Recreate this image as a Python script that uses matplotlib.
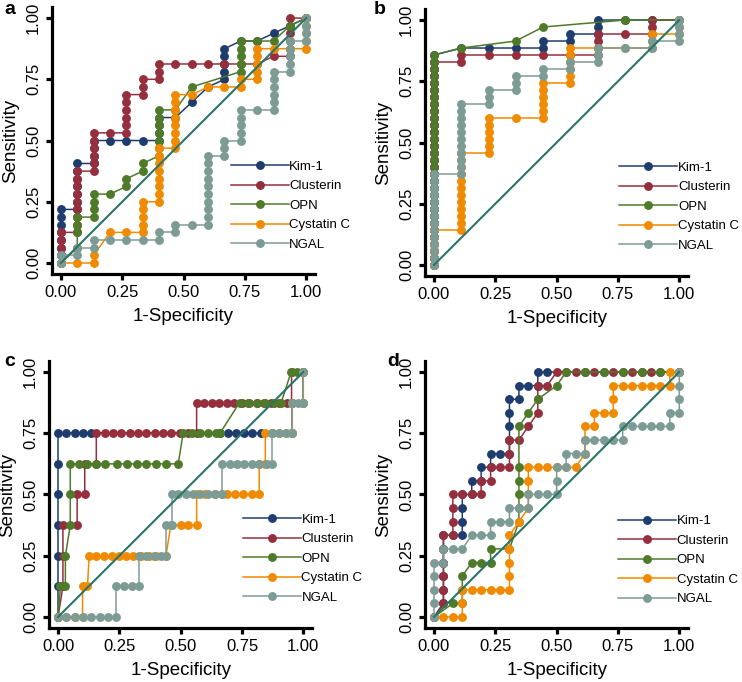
import matplotlib
matplotlib.use("Agg")
import matplotlib.pyplot as plt
from matplotlib.lines import Line2D

plt.rcParams['font.family'] = ['Liberation Sans', 'DejaVu Sans']

names = ["Kim-1", "Clusterin", "OPN", "Cystatin C", "NGAL"]
colors = ["#1e3d6e", "#952f3d", "#4e7a2a", "#f08a00", "#7d9b95"]
diag_color = "#2b7468"
ticks = [0.0, 0.25, 0.5, 0.75, 1.0]
tick_labels = ["0.00", "0.25", "0.50", "0.75", "1.00"]

# panel a: (false positives, [true positives]) with 15 negatives / 32 positives
neg_a, pos_a = 15, 32
kim_a = [(0, [0, 1, 2, 3, 4, 5, 6, 7]), (1, [7, 8, 9, 10, 11, 12, 13]), (2, [13, 14, 15, 16]),
         (3, [16]), (4, [16]), (5, [16]), (6, [16, 17, 18, 19]), (7, [19]), (8, [21]), (9, [23]),
         (10, [24, 25, 26, 27, 28]), (11, [29]), (12, [29]), (13, [30]), (14, [31]), (15, [32])]
clu_a = [(0, [0, 1, 2, 3, 4]), (1, [4, 5, 6, 7, 8, 9, 10, 11, 12]), (2, [12, 13, 14, 15, 16, 17]),
         (3, [17]), (4, [17, 18, 19, 20, 21, 22]), (5, [22, 23, 24]), (6, [24, 25, 26]), (7, [26]),
         (8, [26]), (9, [26]), (10, [26]), (11, [26]), (12, [26]), (13, [27]),
         (14, [27, 28, 29, 30, 31, 32]), (15, [32])]
opn_a = [(0, [0]), (1, [2, 4, 5, 6]), (2, [6, 7, 8, 9]), (3, [9]), (4, [10, 11]), (5, [12, 13]),
         (6, [14, 15, 16, 17, 18, 19, 20]), (7, [20]), (8, [23]), (11, [25, 26, 27, 28, 29]),
         (12, [29]), (13, [29]), (14, [31]), (15, [32])]
cys_a = [(0, [0]), (1, [0]), (2, [0, 1]), (3, [4]), (4, [4]), (5, [4, 5, 6, 7, 8]),
         (6, [8, 9, 10, 11, 12, 13, 14, 15]), (7, [15, 16, 17, 18, 19, 20, 21, 22]), (8, [22]),
         (9, [23]), (10, [23]), (11, [23, 24]), (12, [24, 25, 26, 27, 28]), (13, [28]), (14, [28]),
         (15, [28, 29, 30, 31, 32])]
ngal_a = [(0, [0, 1]), (1, [1, 2]), (2, [2, 3]), (3, [3]), (4, [3]), (5, [3]), (6, [3, 4]), (7, [4, 5]),
          (8, [5]), (9, [5, 6, 7, 8, 9, 10, 11, 12, 13, 14]), (10, [14, 15, 16]),
          (11, [16, 17, 18, 19, 20]), (12, [20]), (13, [20, 21, 22, 23, 24, 25]),
          (14, [25, 26, 27, 28, 29]), (15, [29, 30, 31, 32])]

# panel b: 9 negatives / 35 positives
neg_b, pos_b = 9, 35
kim_b = [(0, [0, 1, 2, 3, 4, 5, 6, 7, 8, 9, 10, 11, 12, 13, 14, 15, 16, 17, 18, 19, 20, 21, 22, 23, 24,
              25, 26, 27, 28, 29, 30]),
         (1, [31]), (2, [31]), (3, [31]), (4, [31, 32]), (5, [32, 33]), (6, [33, 34, 35]), (7, [35]),
         (8, [35]), (9, [35])]
clu_b = [(0, [0, 1, 2, 3, 4, 5, 6, 7, 8, 9, 10, 11, 12, 13, 14, 15, 16, 17, 18, 19, 20, 21, 22, 23, 24,
              25, 26, 27, 28, 29]),
         (1, [29, 30]), (2, [30]), (3, [30]), (4, [30]), (5, [30]), (6, [30, 31, 32, 33]), (7, [33]),
         (8, [33, 34, 35]), (9, [35])]
opn_b = [(0, [0, 1, 2, 3, 4, 5, 6, 7, 8, 9, 10, 11, 12, 13, 14, 15, 16, 17, 18, 19, 20, 21, 22, 23, 24,
              25, 26, 27, 28, 29, 30]),
         (1, [31]), (3, [32]), (4, [34]), (7, [35]), (9, [35])]
cys_b = [(0, [0, 1, 2, 3, 4, 5]), (1, [5, 6, 7, 8, 9, 10, 11, 12, 13, 14, 15, 16]),
         (2, [16, 17, 18, 19, 20, 21]), (3, [21]), (4, [21, 22, 23, 24, 25, 26]),
         (5, [26, 27, 28, 29, 30, 31]), (6, [31]), (7, [31]), (8, [31, 32, 33]), (9, [33, 34, 35])]
ngal_b = [(0, [0, 1, 2, 3, 4, 5, 6, 7, 8, 9, 10, 11, 12, 13]),
          (1, [13, 14, 15, 16, 17, 18, 19, 20, 21, 22, 23]), (2, [23, 24, 25]), (3, [25, 26, 27]),
          (4, [27, 28]), (5, [28, 29]), (6, [29, 30, 31]), (7, [31]), (8, [31, 32]),
          (9, [32, 33, 34, 35])]

# panel c: (1-specificity, true positives out of 8)
pos_c = 8
kim_c = [(0.0, 0), (0.0, 1), (0.0, 2), (0.0, 3), (0.0, 4), (0.0, 5), (0.0, 6), (0.034, 6), (0.068, 6),
         (0.102, 6), (0.136, 6), (0.66, 6), (0.693, 6), (0.726, 6), (0.759, 6), (0.792, 6), (0.826, 6),
         (0.873, 6), (0.955, 6), (0.955, 7), (1.0, 7), (1.0, 8)]
clu_c = [(0.0, 0), (0.02, 1), (0.02, 2), (0.02, 3), (0.078, 3), (0.078, 4), (0.109, 4), (0.109, 5),
         (0.156, 5), (0.156, 6), (0.19, 6), (0.224, 6), (0.258, 6), (0.292, 6), (0.326, 6), (0.36, 6),
         (0.394, 6), (0.428, 6), (0.462, 6), (0.496, 6), (0.53, 6), (0.565, 6), (0.565, 7), (0.595, 7),
         (0.626, 7), (0.656, 7), (0.687, 7), (0.717, 7), (0.748, 7), (0.779, 7), (0.81, 7), (0.84, 7),
         (0.87, 7), (0.901, 7), (0.932, 7), (0.952, 7), (0.952, 8), (1.0, 8)]
opn_c = [(0.0, 0), (0.01, 1), (0.03, 1), (0.03, 2), (0.05, 3), (0.05, 4), (0.05, 5), (0.085, 5),
         (0.12, 5), (0.155, 5), (0.19, 5), (0.24, 5), (0.28, 5), (0.32, 5), (0.36, 5), (0.40, 5),
         (0.44, 5), (0.49, 5), (0.51, 6), (0.545, 6), (0.58, 6), (0.612, 6), (0.646, 6), (0.66, 6),
         (0.74, 7), (0.775, 7), (0.81, 7), (0.845, 7), (0.88, 7), (0.91, 7), (0.95, 8), (0.975, 8),
         (1.0, 8)]
cys_c = [(0.0, 0), (0.034, 0), (0.068, 0), (0.1, 0), (0.1, 1), (0.12, 1), (0.127, 2), (0.156, 2),
         (0.186, 2), (0.218, 2), (0.248, 2), (0.279, 2), (0.306, 2), (0.34, 2), (0.37, 2), (0.40, 2),
         (0.44, 2), (0.46, 3), (0.5, 3), (0.53, 3), (0.565, 3), (0.565, 4), (0.6, 4), (0.64, 4),
         (0.67, 4), (0.69, 4), (0.72, 4), (0.755, 4), (0.79, 4), (0.82, 4), (0.82, 5), (0.845, 5),
         (0.845, 6), (0.873, 6), (0.9, 6), (0.93, 6), (0.955, 6), (0.955, 7), (1.0, 7), (1.0, 8)]
ngal_c = [(0.0, 0), (0.034, 0), (0.068, 0), (0.102, 0), (0.136, 0), (0.17, 0), (0.204, 0), (0.238, 0),
          (0.238, 1), (0.268, 1), (0.3, 1), (0.33, 1), (0.33, 2), (0.36, 2), (0.39, 2), (0.42, 2),
          (0.44, 2), (0.44, 3), (0.465, 3), (0.465, 4), (0.49, 4), (0.52, 4), (0.55, 4), (0.58, 4),
          (0.61, 4), (0.64, 4), (0.67, 4), (0.67, 5), (0.7, 5), (0.73, 5), (0.76, 5), (0.79, 5),
          (0.82, 5), (0.85, 5), (0.873, 5), (0.873, 6), (0.9, 6), (0.93, 6), (0.955, 6), (0.955, 7),
          (0.98, 7), (1.0, 7), (1.0, 8)]

# panel d: 26 negatives / 18 positives
neg_d, pos_d = 26, 18
kim_d = [(0, [0]), (1, [1, 2, 3, 4, 5, 6]), (2, [6]), (3, [6, 7, 8, 9]), (4, [9, 10]), (5, [10, 11]),
         (6, [11, 12]), (7, [12]), (8, [12, 13, 14, 15, 16]), (9, [16, 17]), (10, [17]), (11, [17, 18]),
         (12, [18]), (26, [18])]
clu_d = [(0, [0]), (1, [1, 2, 3, 4, 5, 6]), (2, [6, 7, 8, 9]), (3, [9]), (4, [9]), (5, [9, 10]),
         (6, [10, 11]), (7, [11]), (8, [11, 12, 13]), (9, [13]), (10, [14]), (11, [15, 16, 17]),
         (12, [17]), (13, [18]), (14, [18]), (15, [18]), (16, [18]), (17, [18]), (18, [18]), (19, [18]),
         (20, [18]), (21, [18]), (22, [18]), (23, [18]), (24, [18]), (26, [18])]
opn_d = [(0, [0]), (2, [1]), (3, [1, 2, 3]), (4, [4]), (5, [4]), (6, [4, 5]), (8, [5]),
         (9, [7, 8, 9, 10, 11, 14]), (10, [15]), (11, [16]), (13, [17]), (14, [18]), (16, [18]),
         (18, [18]), (20, [18]), (22, [18]), (24, [18]), (26, [18])]
cys_d = [(0, [0]), (1, [0]), (2, [0]), (3, [0, 1, 2]), (4, [2]), (5, [2]), (6, [2]), (7, [2]),
         (8, [2, 3, 4, 5, 6]), (9, [7]), (10, [8, 9, 10, 11]), (11, [11]), (12, [11]), (13, [11]),
         (14, [11]), (15, [11]), (16, [12, 13, 14]), (17, [14, 15]), (18, [15]), (19, [15, 16, 17]),
         (20, [17]), (21, [17]), (22, [17]), (23, [17]), (24, [17]), (25, [17, 18]), (26, [18])]
ngal_d = [(0, [0, 1, 2, 3, 4]), (1, [4, 5]), (2, [5]), (3, [5]), (4, [6]), (5, [6]), (6, [6, 7]),
          (7, [7]), (8, [7, 8]), (9, [8]), (10, [8, 9]), (11, [9]), (12, [9]), (13, [9, 10, 11]),
          (14, [11, 12]), (15, [12]), (16, [12, 13]), (17, [13]), (18, [13]), (19, [13]), (20, [13, 14]),
          (21, [14]), (22, [14]), (23, [14]), (24, [14]), (25, [14, 15]), (26, [15, 16, 17, 18])]


def from_counts(cols, n_neg, n_pos):
    xs, ys = [], []
    for fp, tps in cols:
        for tp in tps:
            xs.append(fp / n_neg)
            ys.append(tp / n_pos)
    return xs, ys


def from_pairs(pairs, n_pos):
    return [p[0] for p in pairs], [p[1] / n_pos for p in pairs]


panels = [
    ("a", [0.0702, 0.5982], [from_counts(c, neg_a, pos_a) for c in (kim_a, clu_a, opn_a, cys_a, ngal_a)],
     (0.679, 0.425)),
    ("b", [0.5730, 0.5953], [from_counts(c, neg_b, pos_b) for c in (kim_b, clu_b, opn_b, cys_b, ngal_b)],
     (0.738, 0.429)),
    ("c", [0.0663, 0.0792], [from_pairs(c, pos_c) for c in (kim_c, clu_c, opn_c, cys_c, ngal_c)],
     (0.736, 0.429)),
    ("d", [0.5730, 0.0792], [from_counts(c, neg_d, pos_d) for c in (kim_d, clu_d, opn_d, cys_d, ngal_d)],
     (0.733, 0.423)),
]

fig = plt.figure(figsize=(7.42, 6.82), dpi=100)

for letter, (left, bottom), curves, leg_pos in panels:
    ax = fig.add_axes([left, bottom, 0.3544, 0.3915])
    for (xs, ys), col in zip(curves, colors):
        ax.plot(xs, ys, '-o', color=col, lw=1.1, ms=6.4, mew=0, zorder=2)
    ax.plot([0, 1], [0, 1], color=diag_color, lw=1.5, zorder=3)

    ax.set_xlim(-0.036, 1.036)
    ax.set_ylim(-0.045, 1.045)
    ax.set_xticks(ticks)
    ax.set_xticklabels(tick_labels)
    ax.set_yticks(ticks)
    ax.set_yticklabels(tick_labels, rotation=90, va='center')
    ax.spines['top'].set_visible(False)
    ax.spines['right'].set_visible(False)
    ax.spines['left'].set_linewidth(2.3)
    ax.spines['bottom'].set_linewidth(2.3)
    ax.tick_params(width=2.3, length=4.5, labelsize=12, pad=3.5)
    ax.set_xlabel("1-Specificity", fontsize=13.5, labelpad=6)
    ax.set_ylabel("Sensitivity", fontsize=13.5, labelpad=5)

    handles = [Line2D([0], [0], color=c, lw=1.1, marker='o', ms=6.4, mew=0) for c in colors]
    ax.legend(handles, names, loc='upper left', bbox_to_anchor=leg_pos, frameon=False,
              fontsize=9.5, handlelength=4.4, handletextpad=0.05, borderpad=0,
              borderaxespad=0, labelspacing=0.55)

fig.text(0.006, 0.998, "a", fontsize=14, fontweight='bold', va='top')
fig.text(0.503, 0.998, "b", fontsize=14, fontweight='bold', va='top')
fig.text(0.006, 0.483, "c", fontsize=14, fontweight='bold', va='top')
fig.text(0.522, 0.483, "d", fontsize=14, fontweight='bold', va='top')

fig.savefig("out.png", dpi=100)
